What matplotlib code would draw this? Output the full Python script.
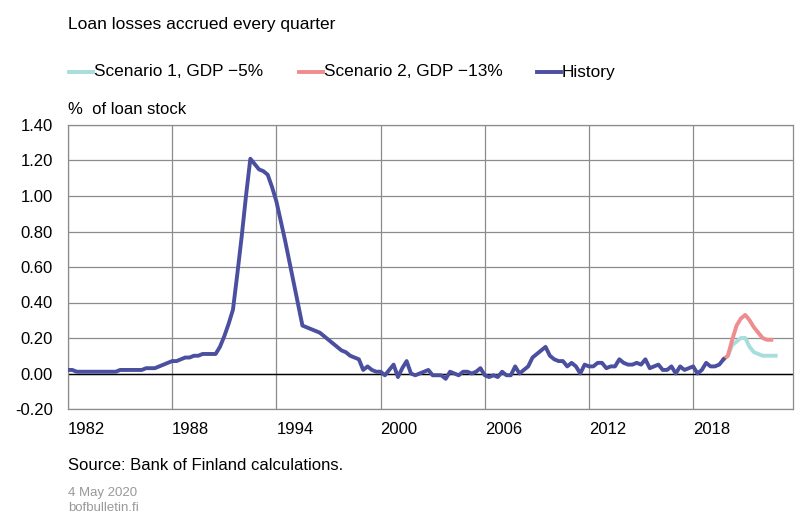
import numpy as np
import matplotlib.pyplot as plt
from matplotlib.lines import Line2D

plt.rcParams['font.family'] = ['Liberation Sans', 'DejaVu Sans']

# quarterly data, index 0 = 1982Q1
history = [
    0.02, 0.02, 0.01, 0.01, 0.01, 0.01, 0.01, 0.01, 0.01, 0.01,
    0.01, 0.01, 0.02, 0.02, 0.02, 0.02, 0.02, 0.02, 0.03, 0.03,
    0.03, 0.04, 0.05, 0.06, 0.07, 0.07, 0.08, 0.09, 0.09, 0.10,
    0.10, 0.11, 0.11, 0.11, 0.11, 0.15, 0.21, 0.28, 0.36, 0.56,
    0.77, 1.00, 1.21, 1.18, 1.15, 1.14, 1.12, 1.05, 0.97, 0.86,
    0.75, 0.63, 0.51, 0.39, 0.27, 0.26, 0.25, 0.24, 0.23, 0.21,
    0.19, 0.17, 0.15, 0.13, 0.12, 0.10, 0.09, 0.08, 0.02, 0.04,
    0.02, 0.01, 0.01, -0.01, 0.02, 0.05, -0.02, 0.03, 0.07, 0.00,
    -0.01, 0.00, 0.01, 0.02, -0.01, -0.01, -0.01, -0.03, 0.01, 0.00,
    -0.01, 0.01, 0.01, 0.00, 0.01, 0.03, -0.01, -0.02, -0.01, -0.02,
    0.01, -0.01, -0.01, 0.04, 0.00, 0.02, 0.04, 0.09, 0.11, 0.13,
    0.15, 0.10, 0.08, 0.07, 0.07, 0.04, 0.06, 0.04, 0.00, 0.05,
    0.04, 0.04, 0.06, 0.06, 0.03, 0.04, 0.04, 0.08, 0.06, 0.05,
    0.05, 0.06, 0.05, 0.08, 0.03, 0.04, 0.05, 0.02, 0.02, 0.04,
    0.00, 0.04, 0.02, 0.03, 0.04, 0.00, 0.02, 0.06, 0.04, 0.04,
    0.05, 0.08,
]
# scenarios start from last history quarter (2019Q4)
scen_start = 151
scenario1 = [0.08, 0.10, 0.16, 0.18, 0.20, 0.20, 0.15, 0.12, 0.11, 0.10, 0.10, 0.10, 0.10]
scenario2 = [0.08, 0.10, 0.19, 0.27, 0.31, 0.33, 0.30, 0.26, 0.23, 0.20, 0.19, 0.19]

year_labels = ['1982', '1988', '1994', '2000', '2006', '2012', '2018']
n_quarters = 168

c_hist = '#4b4f9f'
c_s1 = '#a8dddd'
c_s2 = '#ef8c8e'
grid_c = '#8c8c8c'
lw = 2.8

fig = plt.figure(figsize=(8, 5.23), dpi=100)
ax = fig.add_axes([68 / 800, 1 - 409 / 523, (793 - 68) / 800, (409 - 125) / 523])

x_hist = np.arange(len(history))
x_s1 = np.arange(scen_start, scen_start + len(scenario1))
x_s2 = np.arange(scen_start, scen_start + len(scenario2))

ax.plot(x_s1, scenario1, color=c_s1, lw=lw, zorder=3)
ax.plot(x_s2, scenario2, color=c_s2, lw=lw, zorder=4)
ax.plot(x_hist, history, color=c_hist, lw=lw, zorder=5)

ax.set_xlim(0, n_quarters - 1)
ax.set_ylim(-0.2, 1.4)
ax.set_yticks(np.arange(-0.2, 1.41, 0.2))
ax.set_yticklabels(['%.2f' % v for v in np.arange(-0.2, 1.41, 0.2)])
xt = np.arange(0, n_quarters, 24)
ax.set_xticks(xt)
ax.set_xticklabels(year_labels, ha='left')
ax.tick_params(axis='both', length=0, labelsize=12, colors='black')
ax.tick_params(axis='y', pad=11)
ax.tick_params(axis='x', pad=9)

ax.grid(True, color=grid_c, lw=0.9)
ax.set_axisbelow(True)
ax.axhline(0, color='black', lw=1.0, zorder=2)
for s in ax.spines.values():
    s.set_color(grid_c)
    s.set_linewidth(0.9)

fig.text(68 / 800, 1 - 24 / 523, 'Loan losses accrued every quarter', fontsize=12.5, va='center')
fig.text(68 / 800, 1 - 109 / 523, '%  of loan stock', fontsize=12, va='center')
fig.text(68 / 800, 1 - 466 / 523, 'Source: Bank of Finland calculations.', fontsize=12, va='center')
fig.text(68 / 800, 1 - 493 / 523, '4 May 2020', fontsize=9.5, va='center', color='#999999')
fig.text(68 / 800, 1 - 508 / 523, 'bofbulletin.fi', fontsize=9.5, va='center', color='#999999')

# legend drawn by hand to match the original spacing
labels = ['Scenario 1, GDP \u22125%', 'Scenario 2, GDP \u221213%', 'History']
colors = [c_s1, c_s2, c_hist]
starts = [69, 299, 537]
ly = 1 - 72 / 523
for x0, col, lab in zip(starts, colors, labels):
    fig.add_artist(Line2D([x0 / 800, (x0 + 24) / 800], [ly, ly], color=col, lw=lw,
                          transform=fig.transFigure))
    fig.text((x0 + 25) / 800, ly, lab, fontsize=12.4, va='center')

fig.savefig('out.png', dpi=100)
